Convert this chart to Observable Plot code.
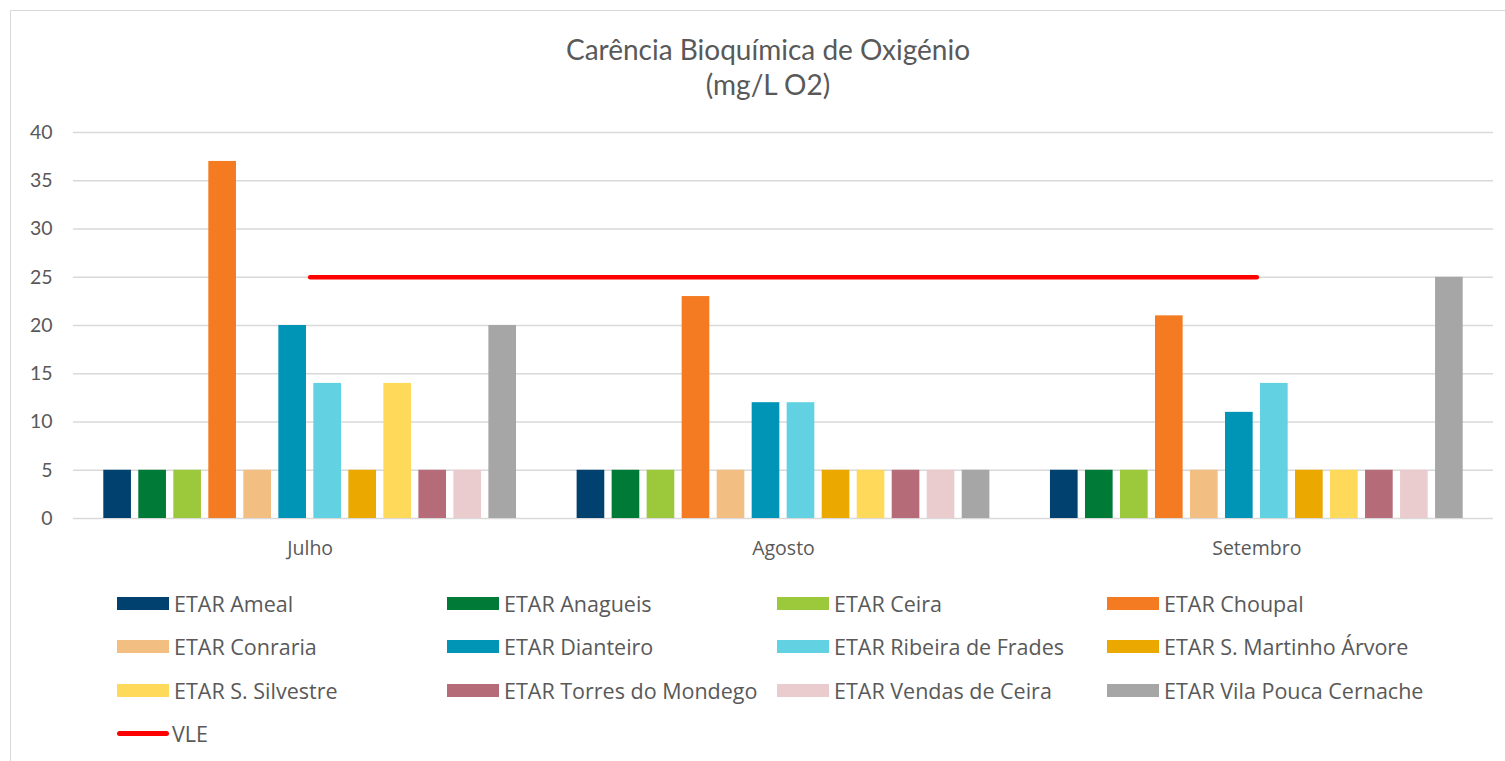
<!DOCTYPE html>
<html>
<head>
<meta charset="utf-8">
<script src="https://cdn.jsdelivr.net/npm/d3@7"></script>
<script src="https://cdn.jsdelivr.net/npm/@observablehq/plot@0.6"></script>
<style>
  html, body { margin: 0; padding: 0; background: #fff; }
  #wrap { position: relative; width: 1505px; height: 761px; overflow: hidden; font-family: Lato, "Open Sans", sans-serif; color: #595959; }
  #border { position: absolute; left: 10px; top: 10px; width: 1500px; height: 760px; border: 1.5px solid #d9d9d9; box-sizing: border-box; }
  #title { position: absolute; left: 0; width: 1536px; top: 32px; text-align: center; font-size: 28px; line-height: 35px; }
  #chart { position: absolute; left: 0; top: 100px; }
  #legend { position: absolute; left: 117px; top: 582px; display: grid; grid-template-columns: repeat(4, 330px); grid-auto-rows: 43.3px; font-size: 21.5px; font-family: "Open Sans", Lato, sans-serif; }
  .item { display: flex; align-items: center; white-space: nowrap; }
  .sw { width: 52px; height: 13px; margin-right: 5px; flex: none; }
  .ln { width: 52px; height: 5px; border-radius: 3px; background: #ff0000; margin-right: 3px; flex: none; }
</style>
</head>
<body>
<div id="wrap">
  <div id="border"></div>
  <div id="title">Carência Bioquímica de Oxigénio<br>(mg/L O2)</div>
  <div id="chart"></div>
  <div id="legend"></div>
</div>
<script>
const months = ["Julho", "Agosto", "Setembro"];
const stations = [
  "ETAR Ameal", "ETAR Anagueis", "ETAR Ceira", "ETAR Choupal",
  "ETAR Conraria", "ETAR Dianteiro", "ETAR Ribeira de Frades", "ETAR S. Martinho Árvore",
  "ETAR S. Silvestre", "ETAR Torres do Mondego", "ETAR Vendas de Ceira", "ETAR Vila Pouca Cernache"
];
const colors = [
  "#00416f", "#007a37", "#9cc93c", "#f47b22",
  "#f2be81", "#0095b6", "#62d1e1", "#eba900",
  "#fed95a", "#b56c78", "#eacccf", "#a6a6a6"
];
const julho    = [5, 5, 5, 37, 5, 20, 14, 5, 14, 5, 5, 20];
const agosto   = [5, 5, 5, 23, 5, 12, 12, 5, 5, 5, 5, 5];
const setembro = [5, 5, 5, 21, 5, 11, 14, 5, 5, 5, 5, 25];
const vle      = [25, 25, 25];
const yTicks   = [0, 5, 10, 15, 20, 25, 30, 35, 40];

const series = [julho, agosto, setembro];
const rows = [];
months.forEach((m, mi) => stations.forEach((s, si) => rows.push({mi, station: s, value: series[mi][si]})));
const vleRows = months.map((m, mi) => ({mi, value: vle[mi]}));

// within-group band layout (in month units)
const inner = d3.scaleBand(stations, [-0.436, 0.436]).paddingInner(0.21);

const chart = Plot.plot({
  width: 1505,
  height: 460,
  marginLeft: 73,
  marginRight: 12,
  marginTop: 32,
  marginBottom: 42,
  x: {domain: [-0.5, 2.5], axis: null},
  y: {domain: [0, 40], axis: null},
  color: {domain: stations, range: colors},
  style: {fontFamily: "Lato, 'Open Sans', sans-serif", fontSize: "19px", color: "#595959", background: "transparent"},
  marks: [
    Plot.gridY(yTicks, {stroke: "#d9d9d9", strokeOpacity: 1, strokeWidth: 1.4}),
    Plot.axisY(yTicks, {tickSize: 0, tickPadding: 21, fill: "#595959", fontSize: 19.5, label: null}),
    Plot.axisX([0, 1, 2], {tickSize: 0, tickPadding: 23, tickFormat: i => months[i], fill: "#595959", fontSize: 19.5, fontFamily: "'Open Sans', sans-serif", label: null}),
    Plot.rect(rows, {
      x1: d => d.mi + inner(d.station),
      x2: d => d.mi + inner(d.station) + inner.bandwidth(),
      y1: () => 0,
      y2: "value",
      fill: "station"
    }),
    Plot.line(vleRows, {x: "mi", y: "value", stroke: "#ff0000", strokeWidth: 4.5, strokeLinecap: "round"})
  ]
});
document.getElementById("chart").appendChild(chart);

const legend = document.getElementById("legend");
stations.forEach((s, i) => {
  const it = document.createElement("div");
  it.className = "item";
  it.innerHTML = `<span class="sw" style="background:${colors[i]}"></span><span>${s}</span>`;
  legend.appendChild(it);
});
const v = document.createElement("div");
v.className = "item";
v.innerHTML = `<span class="ln"></span><span>VLE</span>`;
legend.appendChild(v);
</script>
</body>
</html>
